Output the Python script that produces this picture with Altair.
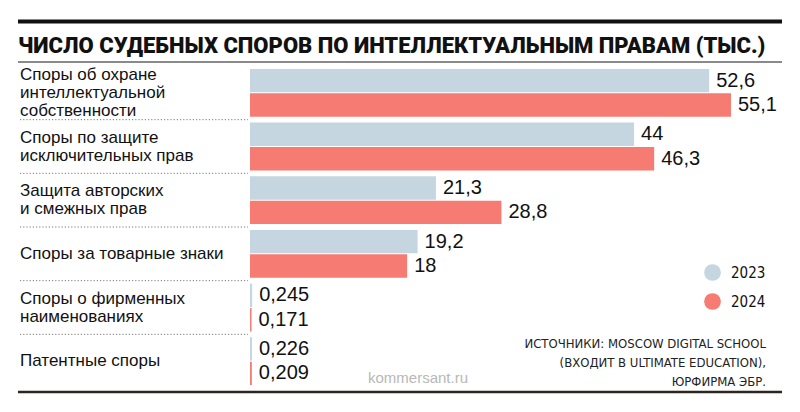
import altair as alt
import pandas as pd

categories = [
    "Споры об охране\nинтеллектуальной\nсобственности",
    "Споры по защите\nисключительных прав",
    "Защита авторских\nи смежных прав",
    "Споры за товарные знаки",
    "Споры о фирменных\nнаименованиях",
    "Патентные споры",
]
years = ["2023", "2024"]
values_2023 = [52.6, 44, 21.3, 19.2, 0.245, 0.226]
values_2024 = [55.1, 46.3, 28.8, 18, 0.171, 0.209]
colors = ["#c6d6e1", "#f67b72"]
title_text = "ЧИСЛО СУДЕБНЫХ СПОРОВ ПО ИНТЕЛЛЕКТУАЛЬНЫМ ПРАВАМ (ТЫС.)"
source_text = "ИСТОЧНИКИ:  MOSCOW DIGITAL SCHOOL\n(ВХОДИТ В ULTIMATE EDUCATION),\nЮРФИРМА ЭБР."
watermark = "kommersant.ru"

NARROW = "Liberation Sans Narrow, DejaVu Sans Condensed, Arial Narrow, sans-serif"
TITLE_FONT = "Roboto, Liberation Sans Narrow, sans-serif"
SANS = "Liberation Sans, Arial, Helvetica, sans-serif"

rows = []
for i, cat in enumerate(categories):
    for yr, vals in zip(years, [values_2023, values_2024]):
        v = vals[i]
        rows.append({"cat": cat, "year": yr, "value": v,
                     "label": f"{v:g}".replace(".", ",")})
df = pd.DataFrame(rows)
cat_df = pd.DataFrame({"cat": categories})
cat_df["n"] = cat_df["cat"].str.count("\n") + 1
sep_df = pd.DataFrame({"cat": categories[:-1]})

W, H = 540, 322
LH = 18
yscale = alt.Scale(domain=categories, paddingInner=0, paddingOuter=0)
xscale = alt.Scale(domain=[0, 61.86], nice=False, zero=True)
off_scale = alt.Scale(domain=years, paddingInner=0.04, paddingOuter=0.12)

base = alt.Chart(df)

bars = base.mark_bar().encode(
    x=alt.X("value:Q", scale=xscale, axis=None),
    y=alt.Y("cat:N", scale=yscale, axis=None),
    yOffset=alt.YOffset("year:N", scale=off_scale),
    color=alt.Color("year:N", scale=alt.Scale(domain=years, range=colors),
                    legend=alt.Legend(orient="none", legendX=454, legendY=198,
                                      title=None, symbolType="circle",
                                      symbolSize=280, symbolStrokeWidth=0,
                                      labelFont=NARROW, labelFontSize=15,
                                      labelColor="#111", labelOffset=10,
                                      rowPadding=12, padding=0)),
)

vlabels = base.mark_text(align="left", baseline="middle", dx=7, fontSize=20,
                         font=SANS, color="#111").encode(
    x=alt.X("value:Q", scale=xscale),
    y=alt.Y("cat:N", scale=yscale),
    yOffset=alt.YOffset("year:N", scale=off_scale),
    text="label:N",
)

clayers = []
for n in sorted(cat_df["n"].unique()):
    sub = cat_df[cat_df["n"] == n]
    clayers.append(
        alt.Chart(sub).mark_text(align="left", baseline="middle",
                                 lineBreak="\n", fontSize=17, lineHeight=LH,
                                 dy=-(int(n) - 1) * LH / 2,
                                 font=SANS, color="#111").encode(
            x=alt.value(-230),
            y=alt.Y("cat:N", scale=yscale),
            text="cat:N",
        )
    )

seps = alt.Chart(sep_df).mark_rule(strokeDash=[1.2, 2], color="#777",
                                   strokeWidth=1).encode(
    x=alt.value(-230), x2=alt.value(-2),
    y=alt.Y("cat:N", scale=yscale, bandPosition=1),
)

deco = alt.Chart(pd.DataFrame({"a": [0]}))
top_rule = deco.mark_rule(color="#111", strokeWidth=4).encode(
    x=alt.value(-232), x2=alt.value(532), y=alt.value(-44.5))
gray_rule = deco.mark_rule(color="#8a8a8a", strokeWidth=2).encode(
    x=alt.value(-232), x2=alt.value(532), y=alt.value(-4))
bottom_rule = deco.mark_rule(color="#2b2622", strokeWidth=2.5).encode(
    x=alt.value(-232), x2=alt.value(532), y=alt.value(326))
title = deco.mark_text(align="left", baseline="middle", fontSize=22,
                       fontWeight=900, font=TITLE_FONT, color="#111").encode(
    x=alt.value(-232), y=alt.value(-20), text=alt.value(title_text))
source = deco.mark_text(align="right", baseline="top", fontSize=13,
                        lineBreak="\n", lineHeight=19, font=NARROW,
                        color="#222").encode(
    x=alt.value(516), y=alt.value(272), text=alt.value(source_text))
wm = deco.mark_text(align="center", baseline="middle", fontSize=15,
                    font=SANS, color="#b8b8b8").encode(
    x=alt.value(168), y=alt.value(312), text=alt.value(watermark))

chart = alt.layer(
    bars, vlabels, *clayers, seps,
    top_rule, gray_rule, bottom_rule, title, source, wm,
).properties(
    width=W, height=H,
    padding={"left": 250, "top": 66, "right": 10, "bottom": 24},
    autosize=alt.AutoSizeParams(type="none"),
    background="white",
).configure_view(stroke=None)

chart.save("out.html", embed_options={"renderer": "svg", "actions": False})
